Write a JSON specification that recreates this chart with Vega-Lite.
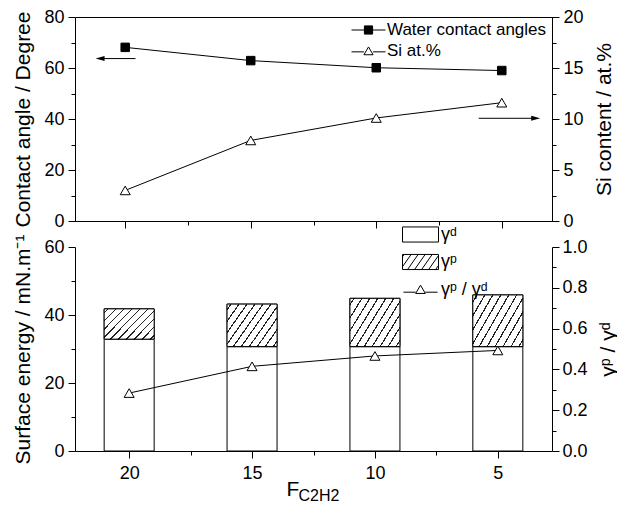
{
  "$schema": "https://vega.github.io/schema/vega-lite/v6.json",
  "padding": {"left": 12, "top": 7, "right": 4, "bottom": 2},
  "config": {
    "font": "Liberation Sans",
    "axis": {
      "labelFont": "Liberation Sans", "titleFont": "Liberation Sans",
      "labelFontSize": 18, "titleFontSize": 21, "titleFontWeight": "normal",
      "labelColor": "black", "titleColor": "black", "domainColor": "black", "tickColor": "black",
      "grid": false, "domainWidth": 1, "tickWidth": 1
    },
    "legend": {"labelFont": "Liberation Sans", "labelColor": "black"},
    "view": {"stroke": null}
  },
  "datasets": {
    "top": [
      {"F": 20, "angle": 68.1, "si": 3.0},
      {"F": 15, "angle": 62.9, "si": 7.9},
      {"F": 10, "angle": 60.1, "si": 10.1},
      {"F": 5, "angle": 59.0, "si": 11.6}
    ],
    "energy": [
      {"F": 20, "comp": "γᵈ", "val": 32.9},
      {"F": 20, "comp": "γᵖ", "val": 8.9},
      {"F": 15, "comp": "γᵈ", "val": 30.7},
      {"F": 15, "comp": "γᵖ", "val": 12.5},
      {"F": 10, "comp": "γᵈ", "val": 30.7},
      {"F": 10, "comp": "γᵖ", "val": 14.2},
      {"F": 5, "comp": "γᵈ", "val": 30.7},
      {"F": 5, "comp": "γᵖ", "val": 15.2}
    ],
    "ratio": [
      {"F": 20, "ratio": 0.284},
      {"F": 15, "ratio": 0.415},
      {"F": 10, "ratio": 0.466},
      {"F": 5, "ratio": 0.493}
    ]
  },
  "bounds": "flush",
  "spacing": 26,
  "resolve": {"scale": {"x": "independent", "y": "independent", "shape": "independent"}},
  "vconcat": [
    {
      "width": 477, "height": 204,
      "view": {"stroke": "black", "strokeWidth": 1},
      "data": {"name": "top"},
      "resolve": {"scale": {"y": "independent"}},
      "layer": [
        {
          "mark": {"type": "line", "color": "black", "strokeWidth": 1},
          "encoding": {
            "x": {"field": "F", "type": "quantitative",
              "scale": {"domain": [3, 22], "reverse": true, "nice": false, "zero": false},
              "axis": {"orient": "bottom", "values": [20, 17.5, 15, 12.5, 10, 7.5, 5], "labels": false, "title": null,
                "tickSize": {"condition": {"test": "datum.value % 5 === 0", "value": 7}, "value": 4}}},
            "y": {"field": "angle", "type": "quantitative", "scale": {"domain": [0, 80], "nice": false},
              "axis": {"orient": "left", "title": "Contact angle / Degree", "values": [0, 10, 20, 30, 40, 50, 60, 70, 80], "format": "d",
                "labelExpr": "datum.value % 20 === 0 ? datum.label : ''", "labelPadding": 4, "titlePadding": 10,
                "tickSize": {"condition": {"test": "datum.value % 20 === 0", "value": 7}, "value": 4}}}
          }
        },
        {
          "mark": {"type": "point", "shape": "square", "filled": true, "fill": "black", "stroke": "black", "strokeWidth": 1, "size": 72, "opacity": 1},
          "encoding": {
            "x": {"field": "F", "type": "quantitative"},
            "y": {"field": "angle", "type": "quantitative", "scale": {"domain": [0, 80], "nice": false}, "axis": null}
          }
        },
        {
          "mark": {"type": "line", "color": "black", "strokeWidth": 1},
          "encoding": {
            "x": {"field": "F", "type": "quantitative"},
            "y": {"field": "si", "type": "quantitative", "scale": {"domain": [0, 20], "nice": false},
              "axis": {"orient": "right", "title": "Si content / at.%", "titleAngle": 270, "titleBaseline": "top",
                "values": [0, 2.5, 5, 7.5, 10, 12.5, 15, 17.5, 20], "format": "d",
                "labelExpr": "datum.value % 5 === 0 ? datum.label : ''", "labelPadding": 4, "titlePadding": 10,
                "tickSize": {"condition": {"test": "datum.value % 5 === 0", "value": 7}, "value": 4}}}
          }
        },
        {
          "mark": {"type": "point", "shape": "triangle-up", "filled": true, "fill": "white", "stroke": "black", "strokeWidth": 1, "size": 100, "opacity": 1},
          "encoding": {
            "x": {"field": "F", "type": "quantitative"},
            "y": {"field": "si", "type": "quantitative", "scale": {"domain": [0, 20], "nice": false}, "axis": null}
          }
        },
        {
          "data": {"values": [{}]},
          "mark": {"type": "rule", "color": "black", "strokeWidth": 1},
          "encoding": {
            "x": {"datum": 19.59, "type": "quantitative"},
            "x2": {"datum": 21.0},
            "y": {"datum": 63.7, "type": "quantitative", "scale": {"domain": [0, 80], "nice": false}, "axis": null}
          }
        },
        {
          "data": {"values": [{}]},
          "mark": {"type": "point", "shape": "M0,0L2,-0.55L2,0.55Z", "size": 81, "filled": true, "fill": "black", "strokeWidth": 0, "opacity": 1},
          "encoding": {
            "x": {"datum": 21.18, "type": "quantitative"},
            "y": {"datum": 63.7, "type": "quantitative", "scale": {"domain": [0, 80], "nice": false}, "axis": null}
          }
        },
        {
          "data": {"values": [{}]},
          "mark": {"type": "rule", "color": "black", "strokeWidth": 1},
          "encoding": {
            "x": {"datum": 5.92, "type": "quantitative"},
            "x2": {"datum": 3.65},
            "y": {"datum": 10.07, "type": "quantitative", "scale": {"domain": [0, 20], "nice": false}, "axis": null}
          }
        },
        {
          "data": {"values": [{}]},
          "mark": {"type": "point", "shape": "M0,0L-2,-0.55L-2,0.55Z", "size": 81, "filled": true, "fill": "black", "strokeWidth": 0, "opacity": 1},
          "encoding": {
            "x": {"datum": 3.47, "type": "quantitative"},
            "y": {"datum": 10.07, "type": "quantitative", "scale": {"domain": [0, 20], "nice": false}, "axis": null}
          }
        },
        {
          "data": {"values": []},
          "mark": {"type": "point", "filled": true, "fill": "white", "stroke": "black", "strokeWidth": 1, "opacity": 1},
          "encoding": {
            "shape": {"datum": "Water contact angles", "type": "nominal",
              "scale": {"domain": ["Water contact angles", "Si at.%"],
                "range": ["M-1,0H-0.24M0.24,0H1M-0.24,-0.24H0.24V0.24H-0.24ZM-0.24,-0.21H0.24M-0.24,-0.18H0.24M-0.24,-0.15H0.24M-0.24,-0.12H0.24M-0.24,-0.09H0.24M-0.24,-0.06H0.24M-0.24,-0.03H0.24M-0.24,0H0.24M-0.24,0.03H0.24M-0.24,0.06H0.24M-0.24,0.09H0.24M-0.24,0.12H0.24M-0.24,0.15H0.24M-0.24,0.18H0.24M-0.24,0.21H0.24",
                          "M-1,0.05H-0.27M0.27,0.05H1M0,-0.24L0.27,0.22L-0.27,0.22Z"]},
              "legend": {"orient": "none", "legendX": 276, "legendY": 3, "title": null, "padding": 0,
                "symbolSize": 1156, "symbolStrokeWidth": 1, "symbolOpacity": 1,
                "clipHeight": 20, "rowPadding": 1,
                "labelOffset": 1, "labelFontSize": 17, "labelFont": "Liberation Sans", "labelColor": "black"}}
          }
        }
      ]
    },
    {
      "width": 477, "height": 204,
      "view": {"stroke": null},
      "resolve": {"scale": {"y": "independent"}, "axis": {"x": "independent"}},
      "layer": [
        {
          "data": {"name": "energy"},
          "mark": {"type": "bar", "size": 50, "fill": "white", "stroke": "black", "strokeWidth": 1, "opacity": 1},
          "encoding": {
            "x": {"field": "F", "type": "quantitative",
              "scale": {"domain": [3, 22], "reverse": true, "nice": false, "zero": false},
              "axis": {"orient": "bottom", "values": [20, 17.5, 15, 12.5, 10, 7.5, 5], "format": "d",
                "labelExpr": "datum.value % 5 === 0 ? datum.label : ''", "labelPadding": 6,
                "tickSize": {"condition": {"test": "datum.value % 5 === 0", "value": 7}, "value": 4},
                "title": "F", "titleFontSize": 21, "titleAlign": "left", "titleX": 211, "titleY": 44, "titleBaseline": "alphabetic"}},
            "y": {"field": "val", "type": "quantitative", "stack": "zero", "scale": {"domain": [0, 60], "nice": false},
              "axis": {"orient": "left", "title": "Surface energy / mN.m⁻¹", "values": [0, 10, 20, 30, 40, 50, 60], "format": "d",
                "labelExpr": "datum.value % 20 === 0 ? datum.label : ''", "labelPadding": 4, "titlePadding": 10,
                "tickSize": {"condition": {"test": "datum.value % 20 === 0", "value": 7}, "value": 4}}},
            "detail": {"field": "comp", "type": "nominal"},
            "order": {"field": "comp", "type": "nominal", "sort": "ascending"}
          }
        },
        {
          "data": {"name": "energy"},
          "mark": {"type": "bar", "size": 50, "stroke": "black", "strokeWidth": 1,
            "fill": {
                "gradient": "linear", "x1": 0, "y1": 0, "x2": 1.18, "y2": 0.7,
                "stops": [
                  {"offset": 0, "color": "white"},
                  {"offset": 0.0415, "color": "white"}, {"offset": 0.0415, "color": "#222"}, {"offset": 0.0585, "color": "#222"}, {"offset": 0.0585, "color": "white"},
                  {"offset": 0.1415, "color": "white"}, {"offset": 0.1415, "color": "#222"}, {"offset": 0.1585, "color": "#222"}, {"offset": 0.1585, "color": "white"},
                  {"offset": 0.2415, "color": "white"}, {"offset": 0.2415, "color": "#222"}, {"offset": 0.2585, "color": "#222"}, {"offset": 0.2585, "color": "white"},
                  {"offset": 0.3415, "color": "white"}, {"offset": 0.3415, "color": "#222"}, {"offset": 0.3585, "color": "#222"}, {"offset": 0.3585, "color": "white"},
                  {"offset": 0.4415, "color": "white"}, {"offset": 0.4415, "color": "#222"}, {"offset": 0.4585, "color": "#222"}, {"offset": 0.4585, "color": "white"},
                  {"offset": 0.5415, "color": "white"}, {"offset": 0.5415, "color": "#222"}, {"offset": 0.5585, "color": "#222"}, {"offset": 0.5585, "color": "white"},
                  {"offset": 0.6415, "color": "white"}, {"offset": 0.6415, "color": "#222"}, {"offset": 0.6585, "color": "#222"}, {"offset": 0.6585, "color": "white"},
                  {"offset": 0.7415, "color": "white"}, {"offset": 0.7415, "color": "#222"}, {"offset": 0.7585, "color": "#222"}, {"offset": 0.7585, "color": "white"},
                  {"offset": 0.8415, "color": "white"}, {"offset": 0.8415, "color": "#222"}, {"offset": 0.8585, "color": "#222"}, {"offset": 0.8585, "color": "white"},
                  {"offset": 0.9415, "color": "white"}, {"offset": 0.9415, "color": "#222"}, {"offset": 0.9585, "color": "#222"}, {"offset": 0.9585, "color": "white"},
                  {"offset": 1, "color": "white"}
                ]}},
          "encoding": {
            "x": {"field": "F", "type": "quantitative", "axis": null},
            "y": {"field": "val", "type": "quantitative", "stack": "zero", "scale": {"domain": [0, 60], "nice": false}, "axis": null},
            "detail": {"field": "comp", "type": "nominal"},
            "order": {"field": "comp", "type": "nominal", "sort": "ascending"},
            "opacity": {"condition": {"test": "datum.comp === 'γᵖ'", "value": 1}, "value": 0}
          }
        },
        {
          "data": {"name": "ratio"},
          "mark": {"type": "line", "color": "black", "strokeWidth": 1},
          "encoding": {
            "x": {"field": "F", "type": "quantitative",
              "axis": {"orient": "bottom", "title": "C2H2", "labels": false, "ticks": false, "domain": false,
                "titleFontSize": 16, "titleAlign": "left", "titleX": 223, "titleY": 49, "titleBaseline": "alphabetic"}},
            "y": {"field": "ratio", "type": "quantitative", "scale": {"domain": [0, 1], "nice": false},
              "axis": {"orient": "right", "title": "γᵖ / γᵈ", "titleAngle": 270, "titleBaseline": "top",
                "values": [0, 0.1, 0.2, 0.3, 0.4, 0.5, 0.6, 0.7, 0.8, 0.9, 1], "format": ".1f",
                "labelExpr": "round(datum.value * 10) % 2 === 0 ? datum.label : ''", "labelPadding": 3, "titlePadding": 10,
                "tickSize": {"condition": {"test": "round(datum.value * 10) % 2 === 0", "value": 7}, "value": 4}}}
          }
        },
        {
          "data": {"name": "ratio"},
          "mark": {"type": "point", "shape": "triangle-up", "filled": true, "fill": "white", "stroke": "black", "strokeWidth": 1, "size": 100, "opacity": 1},
          "encoding": {
            "x": {"field": "F", "type": "quantitative", "axis": null},
            "y": {"field": "ratio", "type": "quantitative", "scale": {"domain": [0, 1], "nice": false}, "axis": null}
          }
        },
        {
          "data": {"values": []},
          "mark": {"type": "point", "filled": true, "fill": "white", "stroke": "black", "strokeWidth": 1, "opacity": 1},
          "encoding": {
            "shape": {"datum": "γᵈ", "type": "nominal",
              "scale": {"domain": ["γᵈ", "γᵖ", "γᵖ / γᵈ"],
                "range": ["M-1,-0.42H1V0.42H-1Z",
                          "M-1,-0.42H1V0.42H-1ZM-1,-0.29L-0.91,-0.42M-1,0.26L-0.52,-0.42M-0.72,0.42L-0.13,-0.42M-0.33,0.42L0.26,-0.42M0.06,0.42L0.65,-0.42M0.45,0.42L1,-0.36M0.84,0.42L1,0.19",
                          "M-0.95,0.15H-0.27M0.27,0.15H0.95M0,-0.24L0.27,0.22L-0.27,0.22Z"]},
              "legend": {"orient": "none", "legendX": 327, "legendY": -21.5, "title": null, "padding": 0,
                "symbolSize": 1296, "symbolStrokeWidth": 1, "symbolOpacity": 1,
                "clipHeight": 18, "rowPadding": 9.5, "labelOffset": 2, "labelFontSize": 18, "labelFont": "Liberation Sans", "labelColor": "black"}}
          }
        }
      ]
    }
  ]
}
